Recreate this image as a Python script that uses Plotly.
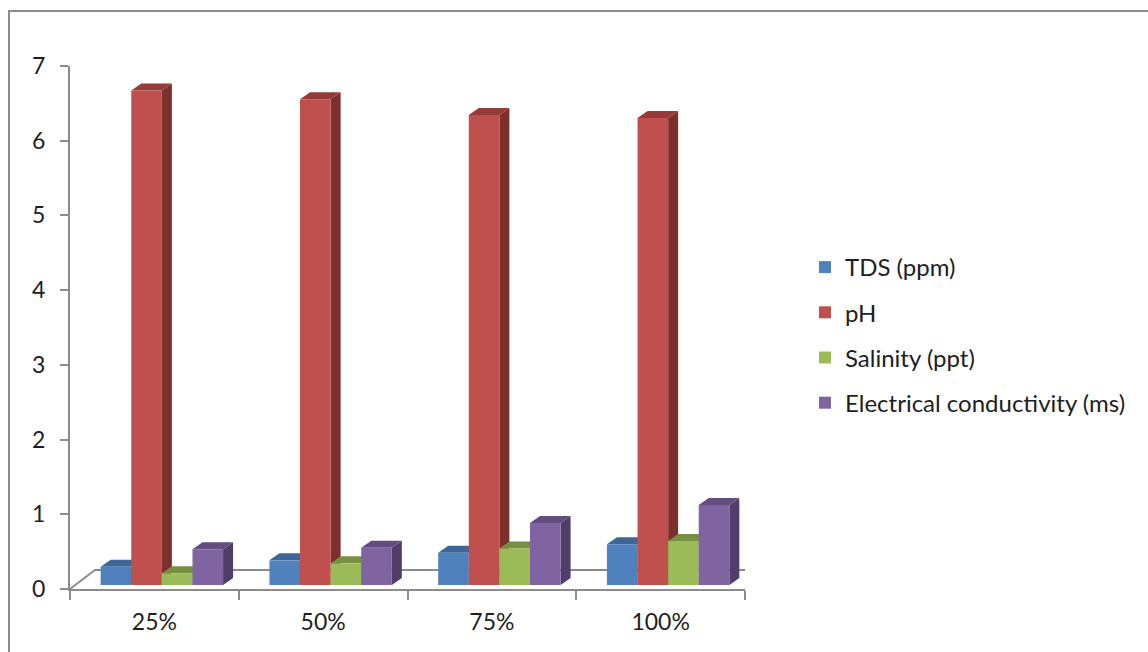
import plotly.graph_objects as go

# ---- data -------------------------------------------------------------
categories = ["25%", "50%", "75%", "100%"]
series_names = ["TDS (ppm)", "pH", "Salinity (ppt)", "Electrical conductivity (ms)"]
tds = [0.245, 0.33, 0.43, 0.545]
ph = [6.62, 6.50, 6.29, 6.25]
salinity = [0.157, 0.29, 0.49, 0.59]
conductivity = [0.48, 0.50, 0.83, 1.07]
y_ticks = [0, 1, 2, 3, 4, 5, 6, 7]

series_values = [tds, ph, salinity, conductivity]

# ---- style ------------------------------------------------------------
W, H = 1148, 652
M_L, M_R, M_T, M_B = 70, 403, 66, 63
PLOT_W = W - M_L - M_R
PLOT_H = H - M_T - M_B
X_RANGE = [-0.5, len(categories) - 0.5]
Y_RANGE = [0, 7]
PX_X = PLOT_W / (X_RANGE[1] - X_RANGE[0])   # pixels per x unit
PX_Y = PLOT_H / (Y_RANGE[1] - Y_RANGE[0])   # pixels per y unit

BAR_W = 30.6 / PX_X          # width of one column
GROUP_SHIFT = 7.5 / PX_X     # columns sit slightly behind the front edge
BAR_BASE = 4.0 / PX_Y
DEPTH_X = 10.0 / PX_X        # column depth (oblique projection)
DEPTH_Y = 7.0 / PX_Y
FLOOR_X = 25.0 / PX_X        # floor depth
FLOOR_Y = 19.0 / PX_Y

front_colors = ["#4F81BD", "#C0504D", "#9BBB59", "#8064A2"]
top_colors = ["#3C6796", "#953B38", "#77903F", "#634C80"]
side_colors = ["#2F5077", "#7D2F2E", "#5F7432", "#503D68"]
AXIS_GRAY = "#8C8C8C"
FONT = "Lato"
TEXT = "#1E1E1E"

fig = go.Figure()
shapes = []

# floor of the 3-D plot area
floor_path = (
    f"M{X_RANGE[0]},0 L{X_RANGE[0] + FLOOR_X},{FLOOR_Y} "
    f"L{X_RANGE[1] + FLOOR_X + 0.01},{FLOOR_Y} L{X_RANGE[1]},0"
)
shapes.append(dict(type="path", xref="x", yref="y", path=floor_path,
                   line=dict(color=AXIS_GRAY, width=2), layer="below"))

n = len(series_values)
for j, (name, vals) in enumerate(zip(series_names, series_values)):
    xs = [i + GROUP_SHIFT + (j - (n - 1) / 2) * BAR_W for i in range(len(categories))]
    fig.add_trace(go.Bar(
        x=xs, y=vals, base=BAR_BASE, width=BAR_W, name=name,
        marker=dict(color=front_colors[j], line=dict(width=0)),
        legendgroup=name,
        hovertemplate=name + ": %{customdata}<extra></extra>",
        customdata=vals,
    ))

# side and top faces of each column, drawn column by column so that the
# following column's faces cover the previous one's
for i in range(len(categories)):
    for j, vals in enumerate(series_values):
        xc = i + GROUP_SHIFT + (j - (n - 1) / 2) * BAR_W
        xl, xr = xc - BAR_W / 2, xc + BAR_W / 2
        yb, yt = BAR_BASE, BAR_BASE + vals[i]
        side = (f"M{xr},{yb} L{xr + DEPTH_X},{yb + DEPTH_Y} "
                f"L{xr + DEPTH_X},{yt + DEPTH_Y} L{xr},{yt} Z")
        top = (f"M{xl},{yt} L{xr},{yt} L{xr + DEPTH_X},{yt + DEPTH_Y} "
               f"L{xl + DEPTH_X},{yt + DEPTH_Y} Z")
        shapes.append(dict(type="path", xref="x", yref="y", path=side,
                           fillcolor=side_colors[j], line=dict(width=0), layer="below"))
        shapes.append(dict(type="path", xref="x", yref="y", path=top,
                           fillcolor=top_colors[j], line=dict(width=0), layer="below"))

# chart border
def px_to_paper_x(px):
    return (px - M_L) / PLOT_W

def px_to_paper_y(py):
    return (H - M_B - py) / PLOT_H

shapes.append(dict(type="rect", xref="paper", yref="paper",
                   x0=px_to_paper_x(9), x1=px_to_paper_x(W + 40),
                   y0=px_to_paper_y(H + 40), y1=px_to_paper_y(11),
                   line=dict(color=AXIS_GRAY, width=2), fillcolor="rgba(0,0,0,0)",
                   layer="below"))

fig.update_layout(
    width=W, height=H,
    margin=dict(l=M_L, r=M_R, t=M_T, b=M_B, autoexpand=False),
    paper_bgcolor="white", plot_bgcolor="white",
    barmode="overlay",
    shapes=shapes,
    font=dict(family=FONT, color=TEXT),
    showlegend=True,
    legend=dict(
        x=px_to_paper_x(805), y=px_to_paper_y(245), xanchor="left", yanchor="top",
        font=dict(family=FONT, size=24, color=TEXT),
        traceorder="grouped", tracegroupgap=11,
        bgcolor="rgba(0,0,0,0)",
    ),
    xaxis=dict(
        range=X_RANGE, tickmode="array", tickvals=list(range(len(categories))),
        ticktext=categories, ticks="", showgrid=False, zeroline=False,
        showline=True, linecolor=AXIS_GRAY, linewidth=2,
        tickfont=dict(family=FONT, size=23, color=TEXT),
        ticklabelstandoff=11,
        minor=dict(tickmode="array",
                   tickvals=[k - 0.5 for k in range(len(categories) + 1)],
                   ticks="outside", ticklen=9, tickwidth=2, tickcolor=AXIS_GRAY,
                   showgrid=False),
        fixedrange=True,
    ),
    yaxis=dict(
        range=Y_RANGE, tickmode="array", tickvals=y_ticks,
        ticks="outside", ticklen=8, tickwidth=2, tickcolor=AXIS_GRAY,
        showgrid=False, zeroline=False,
        showline=True, linecolor=AXIS_GRAY, linewidth=2,
        tickfont=dict(family=FONT, size=23, color=TEXT),
        ticklabelstandoff=10,
        fixedrange=True,
    ),
)

fig.write_html("out.html")
